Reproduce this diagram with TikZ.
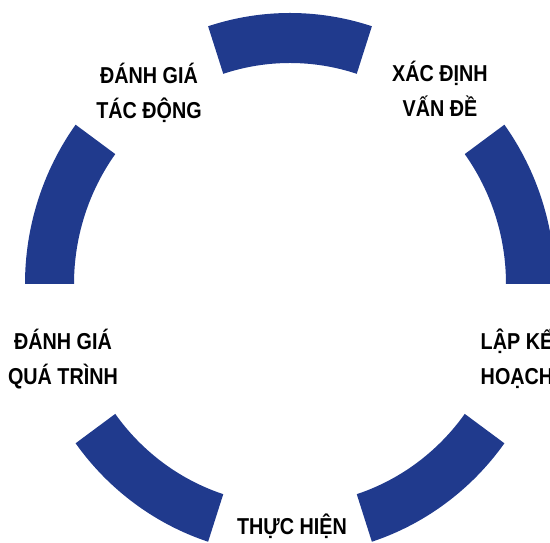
\documentclass[tikz,border=0pt]{standalone}
\usepackage{fontspec}
\setmainfont{Liberation Sans}[FakeStretch=0.86]
\usetikzlibrary{calc}
\definecolor{ringblue}{RGB}{32,58,141}

\begin{document}
\begin{tikzpicture}[x=1pt, y=1pt]
      \useasboundingbox (0,0) rectangle (550,543);
      \coordinate (c) at (290,259);
      \begin{scope}[every node/.style={align=center, anchor=base, inner sep=0pt,
          font=\bfseries\fontsize{23}{35}\selectfont}]
        \node (xacdinh) at (440,426) {XÁC ĐỊNH\\VẤN ĐỀ};
        \node (danhgiatd) at (149,424) {ĐÁNH GIÁ\\TÁC ĐỘNG};
        \node (danhgiaqt) at (63,158) {ĐÁNH GIÁ\\QUÁ TRÌNH};
        \node (lapkehoach) at (517,158) {LẬP KẾ\\HOẠCH};
        \node (thuchien) at (292,8) {THỰC HIỆN};
      \end{scope}
      \begin{scope}[every path/.style={fill=ringblue}]
        \foreach \a in {0,72,...,288}
          \path ($(c)+(\a:265 and 271)$)
            arc[start angle=\a, end angle=\a+36, x radius=265, y radius=271]
            -- ($(c)+(\a+36:216 and 221)$)
            arc[start angle=\a+36, end angle=\a, x radius=216, y radius=221]
            -- cycle;
      \end{scope}
    \end{tikzpicture}
\end{document}
